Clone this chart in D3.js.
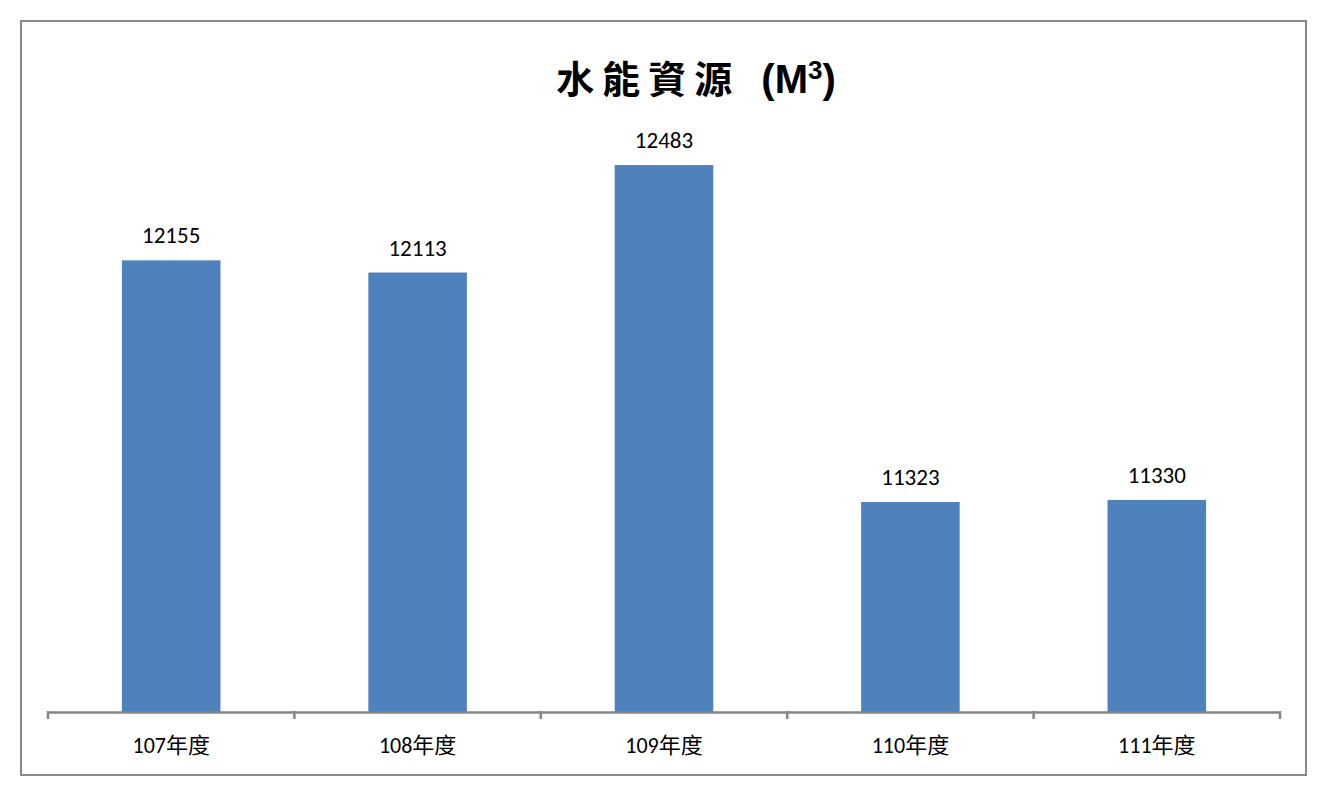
<!DOCTYPE html>
<html><head><meta charset="utf-8">
<script src="https://cdn.jsdelivr.net/npm/d3@7"></script>
<style>body{margin:0;background:#fff}</style>
</head><body>
<svg id="c" width="1329" height="801"></svg>
<script>
const categories = ["107年度","108年度","109年度","110年度","111年度"];
const values = [12155, 12113, 12483, 11323, 11330];
const yDomain = [10600, 12800];

const svg = d3.select("#c");
svg.append("rect").attr("x",21).attr("y",21).attr("width",1285).attr("height",754)
  .attr("fill","#fff").attr("stroke","#888").attr("stroke-width",2);

const x = d3.scaleBand().domain(categories).range([48,1280]).paddingInner(0.6).paddingOuter(0.3);
const y = d3.scaleLinear().domain(yDomain).range([712,73]);

svg.selectAll("rect.bar").data(values).join("rect").attr("class","bar")
  .attr("x",(d,i)=>x(categories[i])).attr("width",x.bandwidth())
  .attr("y",d=>y(d)).attr("height",d=>y(yDomain[0])-y(d)).attr("fill","#4F81BD");

svg.selectAll("text.val").data(values).join("text").attr("class","val")
  .attr("x",(d,i)=>x(categories[i])+x.bandwidth()/2).attr("y",d=>y(d)-17)
  .attr("text-anchor","middle").attr("font-family","Carlito, Lato, 'Open Sans', sans-serif")
  .attr("font-size",23).attr("fill","#000").text(d=>d);

const axis = d3.axisBottom(x).tickSize(0).tickSizeOuter(0);
const g = svg.append("g").attr("transform","translate(0,712)").call(axis);
g.select(".domain").attr("stroke","#868686").attr("stroke-width",2.5);
g.selectAll(".tick text").attr("y",0).attr("dy",41).attr("font-size",22)
  .attr("font-family","Carlito, Lato, 'Noto Sans CJK TC', sans-serif").attr("fill","#000");
// tick marks at band boundaries
const bounds = categories.map(c=>x(c)-x.step()*x.paddingInner()/2);
bounds.push(x(categories[categories.length-1])+x.bandwidth()+x.step()*x.paddingInner()/2);
svg.selectAll("line.tk").data(bounds).join("line").attr("class","tk")
  .attr("x1",d=>d).attr("x2",d=>d).attr("y1",711).attr("y2",719)
  .attr("stroke","#868686").attr("stroke-width",2.5);

const t = svg.append("text").attr("x",696).attr("y",93).attr("text-anchor","middle").attr("fill","#000");
t.append("tspan").attr("font-family","'Noto Sans CJK TC'").attr("font-weight","bold").attr("font-size",38).attr("letter-spacing",8).text("水能資源");
t.append("tspan").attr("font-family","'Liberation Sans', Arial").attr("font-weight","bold").attr("font-size",40).attr("dx",10).text("\u00a0(M");
t.append("tspan").attr("font-family","'Liberation Sans', Arial").attr("font-weight","bold").attr("font-size",26).attr("dy",-14).text("3");
t.append("tspan").attr("font-family","'Liberation Sans', Arial").attr("font-weight","bold").attr("font-size",40).attr("dy",14).text(")");
</script>
</body></html>
